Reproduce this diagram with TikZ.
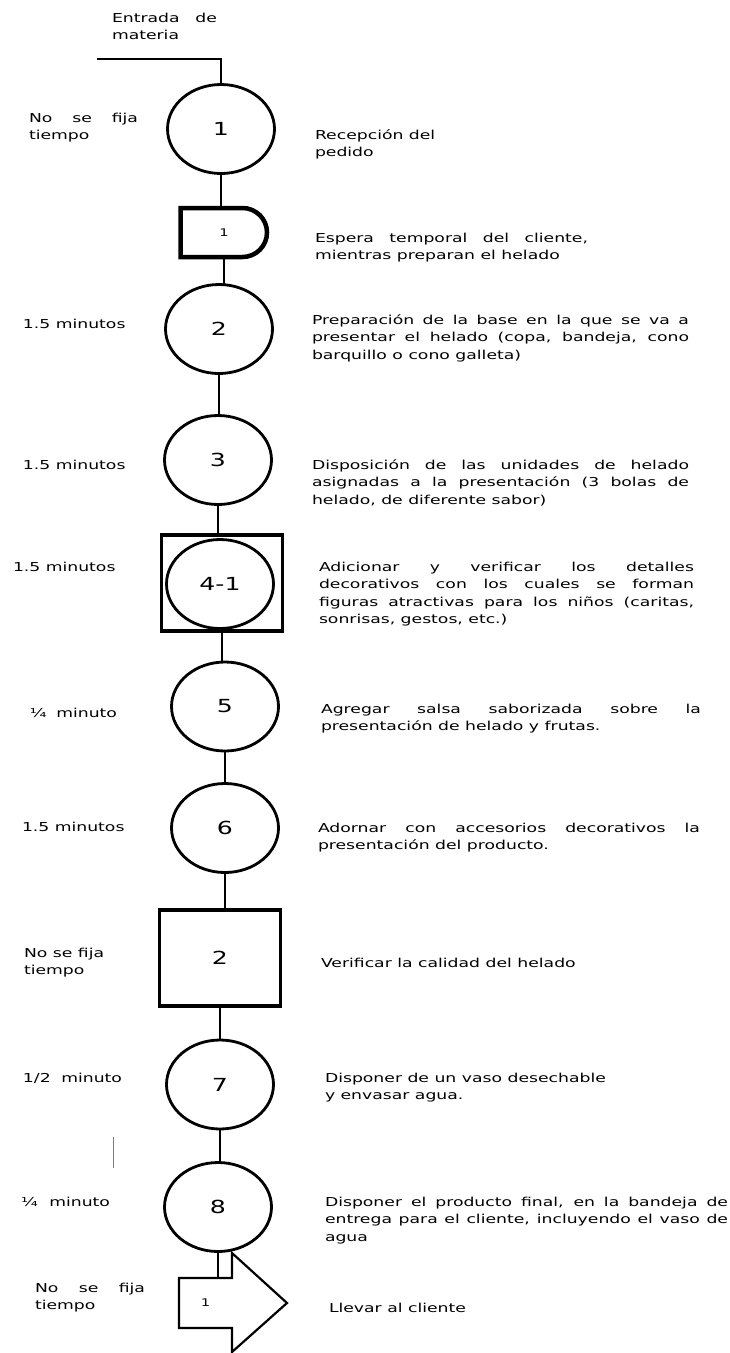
\documentclass[tikz,border=0pt]{standalone}
\usepackage{fontspec}
\setmainfont{DejaVu Sans}[FakeStretch=1.4]
\usetikzlibrary{shapes.geometric}
\newcommand{\jl}[2]{\makebox[#1][s]{#2}}
\begin{document}
\begin{tikzpicture}[x=1pt, y=1pt, line join=miter,
    every node/.style={inner sep=0pt, outer sep=0pt},
    txt/.style={anchor=base west, align=left, font=\fontsize{12.3}{17.5}\selectfont},
    op/.style={ellipse, draw, line width=2.8pt, minimum width=107pt, minimum height=89pt,
      font=\fontsize{18}{20}\selectfont},
    insp/.style={rectangle, draw, line width=3.6pt, minimum width=121pt, minimum height=96pt,
      font=\fontsize{18}{20}\selectfont},
    small/.style={font=\fontsize{10.5}{12}\selectfont},
    link/.style={line width=2pt}]
  \useasboundingbox (0,0) rectangle (729,-1353);
  % symbols
  \node[op] (c1) at (221,-129) {1};
  \node[small, minimum width=87pt, minimum height=49pt] (d1) at (224,-232.5) {1};
  \node[op] (c2) at (219,-329) {2};
  \node[op] (c3) at (218,-460) {3};
  \node[insp] (b4) at (222,-583) {};
  \node[op] (c4) at (220,-584) {4-1};
  \node[op] (c5) at (225,-706.5) {5};
  \node[op] (c6) at (225,-828) {6};
  \node[insp] (b2) at (220,-958) {2};
  \node[op] (c7) at (220,-1084.5) {7};
  \node[op] (c8) at (218,-1207) {8};
  \node[small, minimum width=53pt, minimum height=50pt] (a1) at (205.5,-1303) {1};
  \draw[line width=4.5pt] (d1.north west) -- ([xshift=62pt]d1.north west)
    arc (90:-90:24.5pt) -- (d1.south west) -- cycle;
  \draw[line width=2.2pt] (a1.north west) -- (a1.north east) -- ++(0,25) -- ++(55,-50)
    -- ++(-55,-49) -- (a1.south east) -- (a1.south west) -- cycle;
  % flow
  \coordinate (in) at (97,-59);
  \draw[link] (in) -| (c1.north);
  \draw[link] (c1.south) -- (c1.south |- d1.north);
  \draw[link] (d1.south) -- (d1.south |- c2.north);
  \draw[link] (c2.south) -- (c2.south |- c3.north);
  \draw[link] (c3.south) -- (c3.south |- b4.north);
  \draw[link] (b4.south) -- (b4.south |- c5.north);
  \draw[link] (c5.south) -- (c5.south |- c6.north);
  \draw[link] (c6.south) -- (c6.south |- b2.north);
  \draw[link] (b2.south) -- (b2.south |- c7.north);
  \draw[link] (c7.south) -- (c7.south |- c8.north);
  \draw[link] (c8.south) -- (c8.south |- a1.north);
  \draw[line width=0.8pt, gray] (113,-1137) -- (113,-1168);
  % times (base = last line)
  \node[txt] (tin) at (112,-39.5) {\jl{105pt}{Entrada de}\\materia};
  \node[txt] (t1) at (29,-139.5) {\jl{109pt}{No se fija}\\tiempo};
  \node[txt] (t2) at (23,-328) {1.5 minutos};
  \node[txt] (t3) at (23,-469) {1.5 minutos};
  \node[txt] (t4) at (13,-571) {1.5 minutos};
  \node[txt] (t5) at (30,-717) {\jl{87pt}{¼ minuto}};
  \node[txt] (t6) at (22,-831) {1.5 minutos};
  \node[txt] (t7) at (24,-974.5) {No se fija\\tiempo};
  \node[txt] (t8) at (23,-1082) {\jl{99pt}{1/2 minuto}};
  \node[txt] (t9) at (21,-1206) {\jl{89pt}{¼ minuto}};
  \node[txt] (t10) at (35,-1309.5) {\jl{110pt}{No se fija}\\tiempo};
  % activities
  \node[txt] (s1) at (315,-156.5) {Recepción del\\pedido};
  \node[txt] (s2) at (315,-259.5) {\jl{273pt}{Espera temporal del cliente,}\\mientras preparan el helado};
  \node[txt] (s3) at (312,-359) {\jl{377pt}{Preparación de la base en la que se va a}\\
    \jl{377pt}{presentar el helado (copa, bandeja, cono}\\barquillo o cono galleta)};
  \node[txt] (s4) at (312,-504) {\jl{377pt}{Disposición de las unidades de helado}\\
    \jl{377pt}{asignadas a la presentación (3 bolas de}\\helado, de diferente sabor)};
  \node[txt] (s5) at (319,-623.5) {\jl{375pt}{Adicionar y verificar los detalles}\\
    \jl{375pt}{decorativos con los cuales se forman}\\
    \jl{375pt}{figuras atractivas para los niños (caritas,}\\sonrisas, gestos, etc.)};
  \node[txt] (s6) at (321,-730.5) {\jl{380pt}{Agregar salsa saborizada sobre la}\\
    presentación de helado y frutas.};
  \node[txt] (s7) at (318,-849.5) {\jl{382pt}{Adornar con accesorios decorativos la}\\
    presentación del producto.};
  \node[txt] (s8) at (321,-967) {Verificar la calidad del helado};
  \node[txt] (s9) at (325,-1099.5) {Disponer de un vaso desechable\\y envasar agua.};
  \node[txt] (s10) at (325,-1241) {\jl{403pt}{Disponer el producto final, en la bandeja de}\\
    \jl{403pt}{entrega para el cliente, incluyendo el vaso de}\\agua};
  \node[txt] (s11) at (329,-1312) {Llevar al cliente};
\end{tikzpicture}
\end{document}
